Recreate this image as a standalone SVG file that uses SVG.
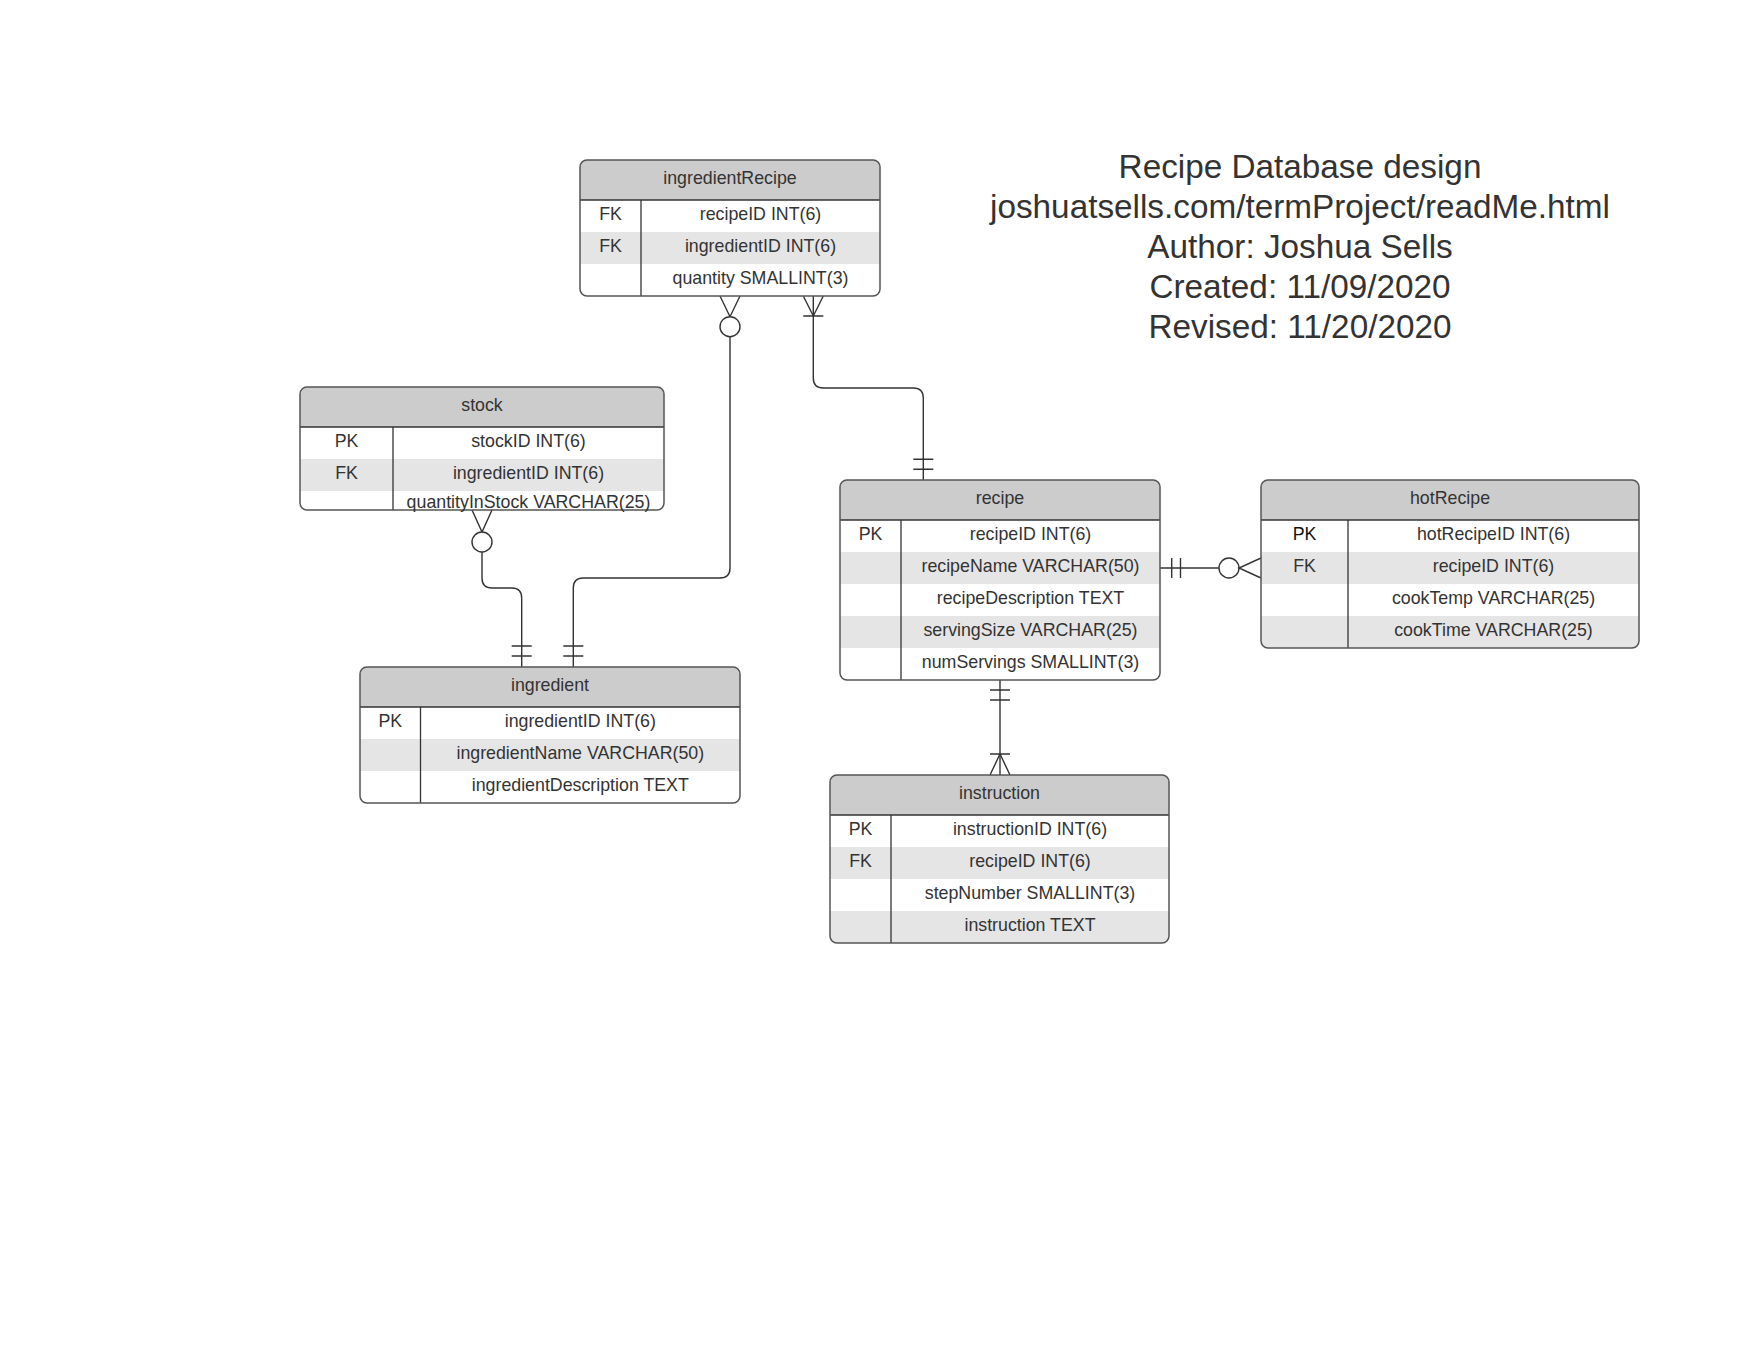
<svg xmlns="http://www.w3.org/2000/svg" width="1760" height="1360" viewBox="0 0 1760 1360">
<style>
  .hdr{fill:#cccccc}
  .shade{fill:#e5e5e5}
  .bg{fill:#ffffff}
  .outline{fill:none;stroke:#555555;stroke-width:1.5}
  .sep{stroke:#333333;stroke-width:1.3}
  .t{font-family:"Liberation Sans",Arial,sans-serif;font-size:17.8px;fill:#333333;text-anchor:middle}
  .title{font-family:"Liberation Sans",Arial,sans-serif;font-size:33.3px;fill:#333333;text-anchor:middle}
  .conn{fill:none;stroke:#333333;stroke-width:1.4}
  .circ{fill:#ffffff;stroke:#333333;stroke-width:1.4}
</style>
<defs>
  <clipPath id="c-ir"><rect x="580" y="160" width="300" height="136" rx="7"/></clipPath>
  <clipPath id="c-st"><rect x="300" y="387" width="364" height="123" rx="7"/></clipPath>
  <clipPath id="c-in"><rect x="360" y="667" width="380" height="136" rx="7"/></clipPath>
  <clipPath id="c-re"><rect x="840" y="480" width="320" height="200" rx="7"/></clipPath>
  <clipPath id="c-hr"><rect x="1261" y="480" width="378" height="168" rx="7"/></clipPath>
  <clipPath id="c-ins"><rect x="830" y="775" width="339" height="168" rx="7"/></clipPath>
</defs>
<rect x="0" y="0" width="1760" height="1360" fill="#ffffff"/>

<g id="title">
  <text class="title" x="1300" y="177.5">Recipe Database design</text>
  <text class="title" x="1300" y="217.5">joshuatsells.com/termProject/readMe.html</text>
  <text class="title" x="1300" y="257.5">Author: Joshua Sells</text>
  <text class="title" x="1300" y="297.5">Created: 11/09/2020</text>
  <text class="title" x="1300" y="337.5">Revised: 11/20/2020</text>
</g>

<g id="connectors">
  <!-- ingredientRecipe (zero-or-many) to ingredient (one-and-only-one) -->
  <path class="conn" d="M730,336.7 V568 Q730,578 720,578 H583.3 Q573.3,578 573.3,588 V667"/>
  <path class="conn" d="M720,296 L730,316.7 L740,296"/>
  <circle class="circ" cx="730" cy="326.7" r="10"/>
  <path class="conn" d="M563.3,646 H583.3 M563.3,656 H583.3"/>

  <!-- ingredientRecipe (one-or-many) to recipe (one-and-only-one) -->
  <path class="conn" d="M813.3,296 V378 Q813.3,388 823.3,388 H913.3 Q923.3,388 923.3,398 V480"/>
  <path class="conn" d="M803.3,296 L813.3,316 L823.3,296 M803.3,316 H823.3"/>
  <path class="conn" d="M913.3,459.3 H933.3 M913.3,469.3 H933.3"/>

  <!-- stock (zero-or-many) to ingredient (one-and-only-one) -->
  <path class="conn" d="M482,552 V578 Q482,588 492,588 H511.7 Q521.7,588 521.7,598 V667"/>
  <path class="conn" d="M472,510 L482,532 L492,510"/>
  <circle class="circ" cx="482" cy="542" r="10"/>
  <path class="conn" d="M511.7,646 H531.7 M511.7,656 H531.7"/>

  <!-- recipe (one-and-only-one) to hotRecipe (zero-or-many) -->
  <path class="conn" d="M1160,568 H1219"/>
  <path class="conn" d="M1171.7,558 V578 M1180.5,558 V578"/>
  <circle class="circ" cx="1229" cy="568" r="10"/>
  <path class="conn" d="M1261,558 L1239,568 L1261,578"/>

  <!-- recipe (one-and-only-one) to instruction (one-or-many) -->
  <path class="conn" d="M1000,680 V775"/>
  <path class="conn" d="M990,690 H1010 M990,700 H1010"/>
  <path class="conn" d="M990,754 H1010 M990,775 L1000,754 L1010,775"/>
</g>

<g id="ingredientRecipe">
  <g clip-path="url(#c-ir)">
    <rect class="bg" x="580" y="160" width="300" height="136"/>
    <rect class="hdr" x="580" y="160" width="300" height="40"/>
    <rect class="shade" x="580" y="232" width="300" height="32"/>
  </g>
  <line class="sep" x1="580" y1="200" x2="880" y2="200"/>
  <line class="sep" x1="641" y1="200" x2="641" y2="296"/>
  <rect class="outline" x="580" y="160" width="300" height="136" rx="7"/>
  <text class="t" x="730" y="183.5">ingredientRecipe</text>
  <text class="t" x="610.5" y="219.7">FK</text>
  <text class="t" x="760.5" y="219.7">recipeID INT(6)</text>
  <text class="t" x="610.5" y="251.7">FK</text>
  <text class="t" x="760.5" y="251.7">ingredientID INT(6)</text>
  <text class="t" x="760.5" y="283.7">quantity SMALLINT(3)</text>
</g>

<g id="stock">
  <g clip-path="url(#c-st)">
    <rect class="bg" x="300" y="387" width="364" height="123"/>
    <rect class="hdr" x="300" y="387" width="364" height="40"/>
    <rect class="shade" x="300" y="459" width="364" height="32"/>
  </g>
  <line class="sep" x1="300" y1="427" x2="664" y2="427"/>
  <line class="sep" x1="393" y1="427" x2="393" y2="510"/>
  <rect class="outline" x="300" y="387" width="364" height="123" rx="7"/>
  <text class="t" x="482" y="410.5">stock</text>
  <text class="t" x="346.5" y="446.7">PK</text>
  <text class="t" x="528.5" y="446.7">stockID INT(6)</text>
  <text class="t" x="346.5" y="478.7">FK</text>
  <text class="t" x="528.5" y="478.7">ingredientID INT(6)</text>
  <text class="t" x="528.5" y="507.7">quantityInStock VARCHAR(25)</text>
</g>

<g id="ingredient">
  <g clip-path="url(#c-in)">
    <rect class="bg" x="360" y="667" width="380" height="136"/>
    <rect class="hdr" x="360" y="667" width="380" height="40"/>
    <rect class="shade" x="360" y="739" width="380" height="32"/>
  </g>
  <line class="sep" x1="360" y1="707" x2="740" y2="707"/>
  <line class="sep" x1="420.5" y1="707" x2="420.5" y2="803"/>
  <rect class="outline" x="360" y="667" width="380" height="136" rx="7"/>
  <text class="t" x="550" y="690.5">ingredient</text>
  <text class="t" x="390.3" y="726.7">PK</text>
  <text class="t" x="580.3" y="726.7">ingredientID INT(6)</text>
  <text class="t" x="580.3" y="758.7">ingredientName VARCHAR(50)</text>
  <text class="t" x="580.3" y="790.7">ingredientDescription TEXT</text>
</g>

<g id="recipe">
  <g clip-path="url(#c-re)">
    <rect class="bg" x="840" y="480" width="320" height="200"/>
    <rect class="hdr" x="840" y="480" width="320" height="40"/>
    <rect class="shade" x="840" y="552" width="320" height="32"/>
    <rect class="shade" x="840" y="616" width="320" height="32"/>
  </g>
  <line class="sep" x1="840" y1="520" x2="1160" y2="520"/>
  <line class="sep" x1="901" y1="520" x2="901" y2="680"/>
  <rect class="outline" x="840" y="480" width="320" height="200" rx="7"/>
  <text class="t" x="1000" y="503.5">recipe</text>
  <text class="t" x="870.5" y="539.7">PK</text>
  <text class="t" x="1030.5" y="539.7">recipeID INT(6)</text>
  <text class="t" x="1030.5" y="571.7">recipeName VARCHAR(50)</text>
  <text class="t" x="1030.5" y="603.7">recipeDescription TEXT</text>
  <text class="t" x="1030.5" y="635.7">servingSize VARCHAR(25)</text>
  <text class="t" x="1030.5" y="667.7">numServings SMALLINT(3)</text>
</g>

<g id="hotRecipe">
  <g clip-path="url(#c-hr)">
    <rect class="bg" x="1261" y="480" width="378" height="168"/>
    <rect class="hdr" x="1261" y="480" width="378" height="40"/>
    <rect class="shade" x="1261" y="552" width="378" height="32"/>
    <rect class="shade" x="1261" y="616" width="378" height="32"/>
  </g>
  <line class="sep" x1="1261" y1="520" x2="1639" y2="520"/>
  <line class="sep" x1="1348" y1="520" x2="1348" y2="648"/>
  <rect class="outline" x="1261" y="480" width="378" height="168" rx="7"/>
  <text class="t" x="1450" y="503.5">hotRecipe</text>
  <text class="t" x="1304.5" y="539.7" style="fill:#111111">PK</text>
  <text class="t" x="1493.5" y="539.7">hotRecipeID INT(6)</text>
  <text class="t" x="1304.5" y="571.7">FK</text>
  <text class="t" x="1493.5" y="571.7">recipeID INT(6)</text>
  <text class="t" x="1493.5" y="603.7">cookTemp VARCHAR(25)</text>
  <text class="t" x="1493.5" y="635.7">cookTime VARCHAR(25)</text>
</g>

<g id="instruction">
  <g clip-path="url(#c-ins)">
    <rect class="bg" x="830" y="775" width="339" height="168"/>
    <rect class="hdr" x="830" y="775" width="339" height="40"/>
    <rect class="shade" x="830" y="847" width="339" height="32"/>
    <rect class="shade" x="830" y="911" width="339" height="32"/>
  </g>
  <line class="sep" x1="830" y1="815" x2="1169" y2="815"/>
  <line class="sep" x1="891" y1="815" x2="891" y2="943"/>
  <rect class="outline" x="830" y="775" width="339" height="168" rx="7"/>
  <text class="t" x="999.5" y="798.5">instruction</text>
  <text class="t" x="860.5" y="834.7">PK</text>
  <text class="t" x="1030" y="834.7">instructionID INT(6)</text>
  <text class="t" x="860.5" y="866.7">FK</text>
  <text class="t" x="1030" y="866.7">recipeID INT(6)</text>
  <text class="t" x="1030" y="898.7">stepNumber SMALLINT(3)</text>
  <text class="t" x="1030" y="930.7">instruction TEXT</text>
</g>
</svg>
